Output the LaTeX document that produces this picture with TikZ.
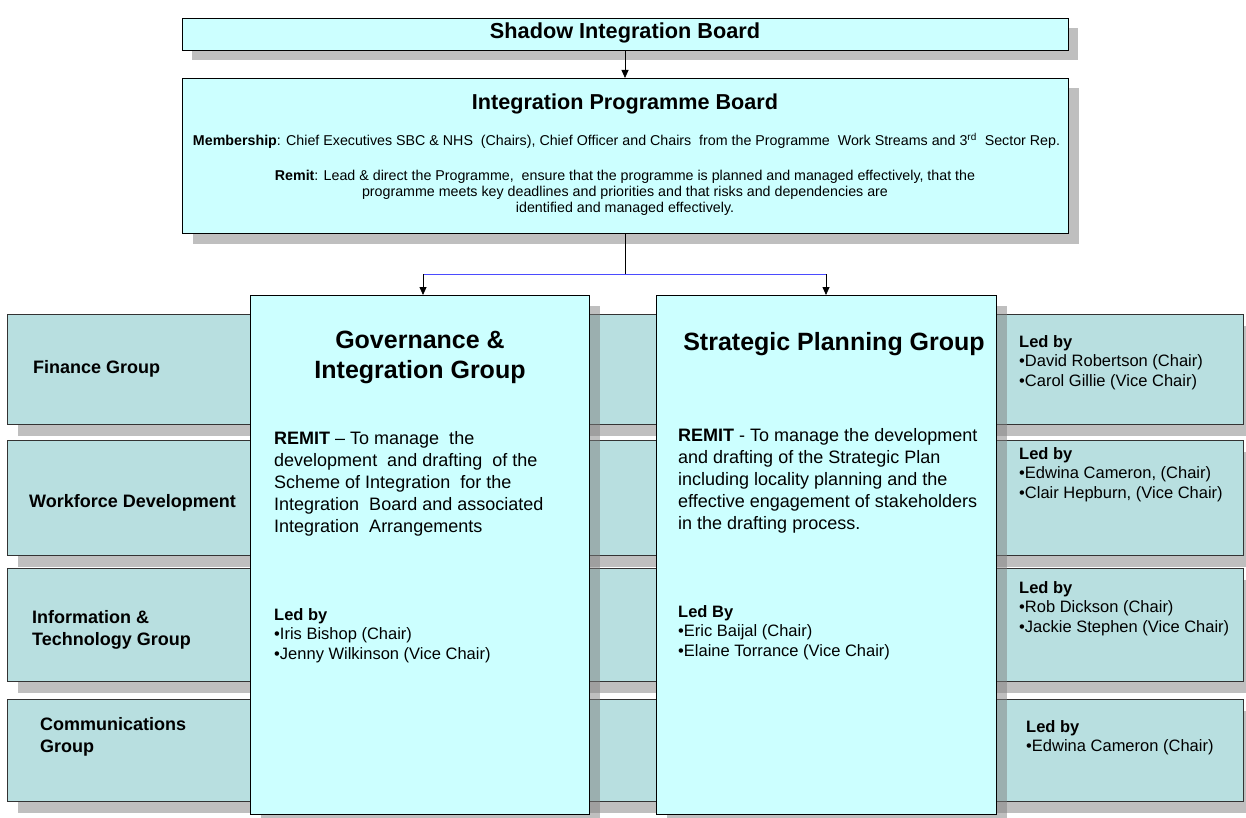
\documentclass[tikz,border=0pt]{standalone}
\usepackage{fontspec}
\setmainfont{Liberation Sans}
\usetikzlibrary{arrows.meta}
\definecolor{boxfill}{HTML}{CCFFFF}
\definecolor{bandfill}{HTML}{B8DFE0}
\definecolor{linkblue}{HTML}{4B4BFF}
\definecolor{shadowgray}{RGB}{128,128,128}
\tikzset{
  shade box/.style={fill=shadowgray, fill opacity=0.5, draw=none},
  topbox/.style={draw=black, line width=1pt, fill=boxfill, inner sep=0pt, anchor=north west},
  bandbox/.style={draw=black!80, line width=1pt, fill=bandfill, inner sep=0pt, anchor=north west},
  lbl/.style={inner sep=0pt, anchor=base west, align=left},
  bandlbl/.style={lbl, font=\fontsize{18}{22}\selectfont\bfseries},
  remit/.style={lbl, font=\fontsize{18}{22}\selectfont},
  ledby/.style={lbl, font=\fontsize{16.5}{19.7}\selectfont},
  conn/.style={draw=black, line width=0.8pt},
  arr/.style={conn, -{Triangle[length=8pt,width=7pt]}},
}
\begin{document}
\begin{tikzpicture}[x=1pt,y=-1pt]
\useasboundingbox (0,0) rectangle (1246,818);
\fill[white] (0,0) rectangle (1246,818);

% top boxes shadows
\fill[shade box] (192,28) rectangle (1078,60);
\fill[shade box] (193,88) rectangle (1079,244);

\node[topbox, minimum width=886pt, minimum height=32pt] (sib) at (182,18) {};
\node[font=\fontsize{21.7}{24}\selectfont\bfseries, inner sep=0pt] (sibt) at (625,33) {Shadow Integration Board};

\node[topbox, minimum width=886pt, minimum height=155pt] (ipb) at (182,78) {};
\node[inner sep=0pt, anchor=base, font=\fontsize{21.6}{24}\selectfont\bfseries] (ipbt) at (625,109.5) {Integration Programme Board};
\node[inner sep=0pt, anchor=base, font=\fontsize{14.25}{16}\selectfont] (ipbm) at (626.5,146)
  {\textbf{Membership}: Chief Executives SBC \& NHS\ \ (Chairs), Chief Officer and Chairs\ \ from the Programme\ \ Work Streams and 3\textsuperscript{rd}\ \ Sector Rep.};
\node[inner sep=0pt, anchor=base, align=center, font=\fontsize{14.25}{16}\selectfont] (ipbr) at (625,213)
  {\textbf{Remit}: Lead \& direct the Programme,\ \ ensure that the programme is planned and managed effectively, that the\\
   programme meets key deadlines and priorities and that risks and dependencies are\\
   identified and managed effectively.};

% band shadows
\fill[shade box] (18,326) rectangle (1254,436);
\fill[shade box] (18,452) rectangle (1254,567);
\fill[shade box] (18,580) rectangle (1254,693);
\fill[shade box] (18,711) rectangle (1254,813);

% bands
\node[bandbox, minimum width=1236pt, minimum height=110pt] (fin) at (7,314) {};
\node[bandbox, minimum width=1236pt, minimum height=115pt] (wfd) at (7,440) {};
\node[bandbox, minimum width=1236pt, minimum height=113pt] (itg) at (7,568) {};
\node[bandbox, minimum width=1236pt, minimum height=102pt] (com) at (7,699) {};

\node[bandlbl] (finl) at (33,373.5) {Finance Group};
\node[bandlbl] (wfdl) at (29,507.5) {Workforce Development};
\node[bandlbl] (itgl) at (32,645.5) {Information \&\\Technology Group};
\node[bandlbl] (coml) at (40,752.5) {Communications\\Group};

% tall boxes shadows
\fill[shade box] (261,306) rectangle (600,826);
\fill[shade box] (667,306) rectangle (1007,826);

\node[topbox, minimum width=339pt, minimum height=519pt] (gov) at (250,295) {};
\node[topbox, minimum width=340pt, minimum height=519pt] (spg) at (656,295) {};

\node[inner sep=0pt, anchor=base, align=center, font=\fontsize{25}{30}\selectfont\bfseries] (govt) at (420,378) {Governance \&\\Integration Group};
\node[inner sep=0pt, anchor=base, font=\fontsize{25}{30}\selectfont\bfseries] (spgt) at (834,350) {Strategic Planning Group};

\node[remit] (govr) at (274,532.5) {\textbf{REMIT} -- To manage\ \ the\\development\ \ and drafting\ \ of the\\Scheme of Integration\ \ for the\\Integration\ \ Board and associated\\Integration\ \ Arrangements};
\node[ledby] (govl) at (274,659.4) {\textbf{Led by}\\\textbullet Iris Bishop (Chair)\\\textbullet Jenny Wilkinson (Vice Chair)};

\node[remit] (spgr) at (678,529.5) {\textbf{REMIT} - To manage the development\\and drafting of the Strategic Plan\\including locality planning and the\\effective engagement of stakeholders\\in the drafting process.};
\node[ledby] (spgl) at (678,656.4) {\textbf{Led By}\\\textbullet Eric Baijal (Chair)\\\textbullet Elaine Torrance (Vice Chair)};

\node[ledby] (finr) at (1019,386.4) {\textbf{Led by}\\\textbullet David Robertson (Chair)\\\textbullet Carol Gillie (Vice Chair)};
\node[ledby] (wfdr) at (1019,498.4) {\textbf{Led by}\\\textbullet Edwina Cameron, (Chair)\\\textbullet Clair Hepburn, (Vice Chair)};
\node[ledby] (itgr) at (1019,632.4) {\textbf{Led by}\\\textbullet Rob Dickson (Chair)\\\textbullet Jackie Stephen (Vice Chair)};
\node[ledby] (comr) at (1026,751.7) {\textbf{Led by}\\\textbullet Edwina Cameron (Chair)};

% connectors
\coordinate (j) at (625,274);
\coordinate (jl) at (423,274);
\coordinate (jr) at (826,274);
\draw[arr] (sib.south -| j) -- (ipb.north -| j);
\draw[conn] (ipb.south -| j) -- (j);
\draw[draw=linkblue, line width=1pt] (jl) -- (jr);
\draw[arr] (jl) -- (jl |- gov.north);
\draw[arr] (jr) -- (jr |- spg.north);
\end{tikzpicture}
\end{document}
